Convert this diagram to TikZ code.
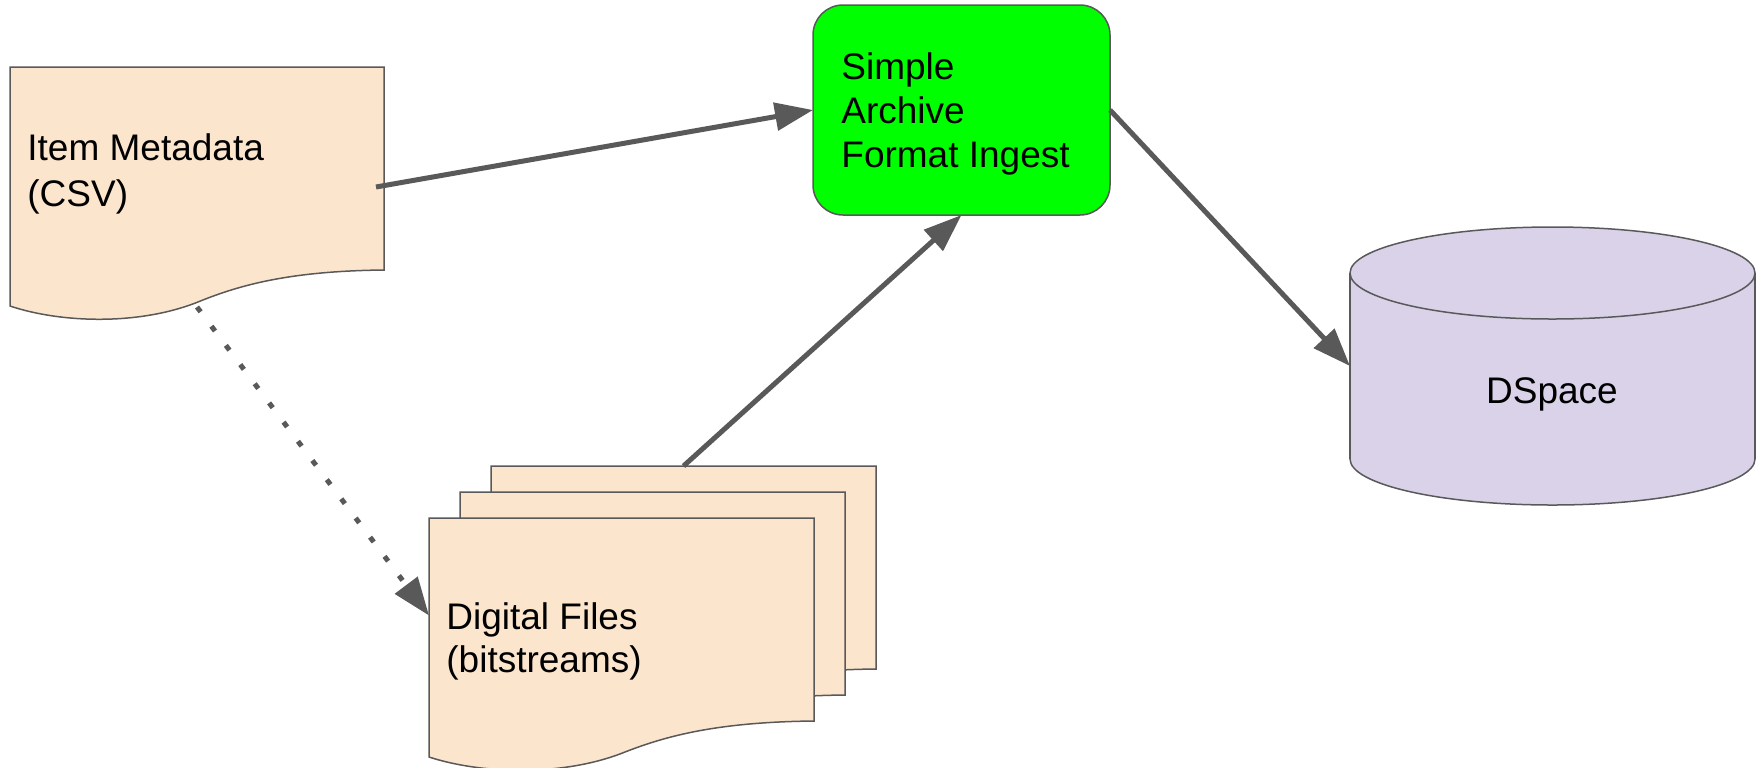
\documentclass[tikz,border=0pt]{standalone}
\usepackage{fontspec}
\setmainfont{Liberation Sans}
\usetikzlibrary{arrows.meta}
\definecolor{pagefill}{HTML}{FCE5CD}
\definecolor{edgegray}{HTML}{595959}
\definecolor{saigreen}{HTML}{00FF00}
\definecolor{dbfill}{HTML}{D9D2E9}
\newcommand\docpage[3]{%
  \begin{scope}[shift={(#1,#2)}, xscale=#3/385]
    \draw[page] (0,0) -- (385,0) -- (385,203) .. controls (288,204) and (237,218) .. (196,234)
      .. controls (134,259) and (52,256) .. (0,239) -- cycle;
  \end{scope}}
\begin{document}
\begin{tikzpicture}[x=0.5pt, y=-0.5pt,
  page/.style={draw=edgegray, line width=0.75pt, fill=pagefill},
  anchorbox/.style={draw=none, inner sep=0pt, outer sep=0pt},
  saibox/.style={draw=edgegray, line width=0.75pt, fill=saigreen, rounded corners=15pt,
     inner sep=0pt, outer sep=0pt, minimum width=148.5pt, minimum height=105pt},
  lbl/.style={inner sep=0pt, anchor=base west, font=\fontsize{18.5}{22}\selectfont},
  conn/.style={draw=edgegray, line width=2.5pt, -{Triangle[length=19pt, width=13.75pt]}},
  dotconn/.style={conn, dash pattern=on 3pt off 9pt}]
\useasboundingbox (0,0) rectangle (1760,767);

% Item Metadata page
\docpage{10}{67}{374}
\node[anchorbox, minimum width=187pt, minimum height=120pt] (meta) at (197,187) {};
\node[lbl] (metaA) at (27,160) {Item Metadata};
\node[lbl] (metaB) at (27,206) {(CSV)};

% Simple Archive Format Ingest
\node[saibox] (sai) at (961.5,110) {};
\node[lbl] (saiA) at (841,79) {Simple};
\node[lbl] (saiB) at (841,123) {Archive};
\node[lbl] (saiC) at (841,167) {Format Ingest};

% Digital files stack
\docpage{491}{466}{385}
\docpage{460}{492}{385}
\docpage{429}{518}{385}
\node[anchorbox, minimum width=192.5pt, minimum height=100pt] (filesback) at (683.5,566) {};
\node[anchorbox, minimum width=192.5pt, minimum height=99.5pt] (files) at (621.5,617.5) {};
\node[lbl] (filesA) at (446,629) {Digital Files};
\node[lbl] (filesB) at (446,672) {(bitstreams)};

% DSpace cylinder
\fill[dbfill, draw=edgegray, line width=0.75pt] (1552.5,459) ellipse [x radius=101.25pt, y radius=23pt];
\fill[dbfill] (1350,273) rectangle (1755,459);
\draw[edgegray, line width=0.75pt] (1350,273) -- (1350,459) (1755,273) -- (1755,459);
\fill[dbfill, draw=edgegray, line width=0.75pt] (1552.5,273) ellipse [x radius=101.25pt, y radius=23pt];
\node[anchorbox, minimum width=202.5pt, minimum height=139pt] (db) at (1552.5,366) {};
\node[lbl, anchor=base] (dbA) at (1552,403) {DSpace};

% connectors
\draw[conn] ([xshift=-4pt]meta.east) -- (sai.west);
\draw[conn] (filesback.north) -- (sai.south);
\draw[conn] (sai.east) -- (db.west);
\draw[dotconn] (meta.south) -- ([yshift=1pt]files.west);
\end{tikzpicture}
\end{document}
